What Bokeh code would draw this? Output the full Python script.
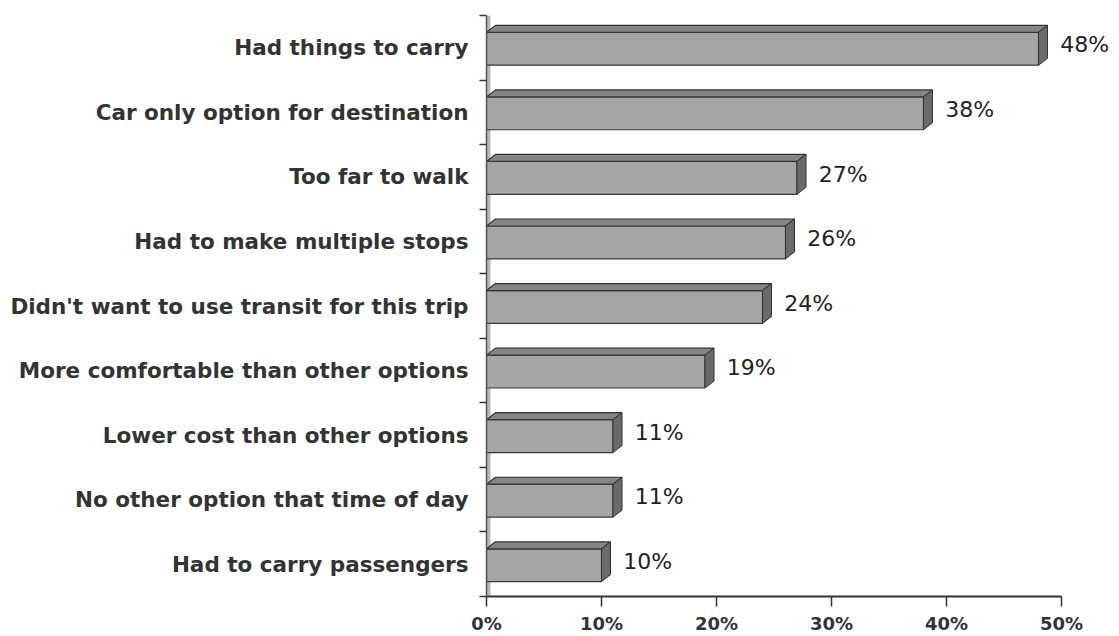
from bokeh.plotting import figure
from bokeh.models import Range1d, FixedTicker, PrintfTickFormatter, ColumnDataSource
from bokeh.core.properties import value
from bokeh.embed import file_html
from bokeh.resources import INLINE

categories = [
    "Had things to carry",
    "Car only option for destination",
    "Too far to walk",
    "Had to make multiple stops",
    "Didn't want to use transit for this trip",
    "More comfortable than other options",
    "Lower cost than other options",
    "No other option that time of day",
    "Had to carry passengers",
]
values = [48, 38, 27, 26, 24, 19, 11, 11, 10]
value_labels = ["48%", "38%", "27%", "26%", "24%", "19%", "11%", "11%", "10%"]
x_ticks = [0, 10, 20, 30, 40, 50]

n = len(categories)
ypos = [n - 1 - i for i in range(n)]

FONT = "DejaVu Sans"
W, H = 1119, 636
BL, BR, BT, BB = 486, 0, 15, 38
px_per_unit_x = 11.5
x_end = (W - BL - BR) / px_per_unit_x
px_per_unit_y = (H - BT - BB) / n

p = figure(width=W, height=H, x_range=Range1d(0, x_end), y_range=Range1d(-0.5, n - 0.5),
           output_backend="svg", toolbar_location=None,
           min_border_left=BL, min_border_right=BR, min_border_top=BT, min_border_bottom=BB)
p.outline_line_color = None
p.xgrid.grid_line_color = None
p.ygrid.grid_line_color = None
p.background_fill_color = "white"

# 3D depth (style)
dxu = 9 / px_per_unit_x
dyu = 7 / px_per_unit_y
hh = 33 / px_per_unit_y / 2
shift = 1 / px_per_unit_y

# wall strip
p.quad(left=[0], right=[4 / px_per_unit_x], bottom=[-0.5], top=[n - 0.5],
       fill_color="#b8b8b8", line_color=None)

centers = [y - shift for y in ypos]
src = ColumnDataSource(dict(
    y=centers, v=values, cat=categories,
    top_xs=[[0, v, v + dxu, dxu] for v in values],
    top_ys=[[c + hh, c + hh, c + hh + dyu, c + hh + dyu] for c in centers],
    side_xs=[[v, v + dxu, v + dxu, v] for v in values],
    side_ys=[[c - hh, c - hh + dyu, c + hh + dyu, c + hh] for c in centers],
    lx=[v + dxu + 1.1 for v in values],
    ly=[c + 0.06 for c in centers],
    lab=value_labels,
))

p.hbar(y="y", left=0, right="v", height=2 * hh, source=src,
       fill_color="#a7a7a7", line_color="#3a3a3a", line_width=1.2,
       hatch_pattern="dot", hatch_color="#8c8c8c", hatch_alpha=0.35, hatch_scale=4)
p.patches(xs="top_xs", ys="top_ys", source=src, fill_color="#858585",
          line_color="#333333", line_width=1.2)
p.patches(xs="side_xs", ys="side_ys", source=src, fill_color="#6a6a6a",
          line_color="#333333", line_width=1.0)

p.text(x="lx", y="ly", text="lab", source=src, text_font=value(FONT),
       text_font_size="22px", text_color="#222222", text_align="left",
       text_baseline="middle")

# left axis
ya = p.yaxis[0]
ya.ticker = FixedTicker(ticks=ypos, minor_ticks=[k - 0.5 for k in range(n + 1)])
ya.major_label_overrides = {y: c for y, c in zip(ypos, categories)}
ya.major_tick_out = 0
ya.major_tick_in = 0
ya.minor_tick_out = 7
ya.minor_tick_in = 0
ya.minor_tick_line_color = "#333333"
ya.minor_tick_line_width = 1.5
ya.axis_line_color = "#555555"
ya.axis_line_width = 1.5
ya.major_label_standoff = 11
ya.major_label_text_font = FONT
ya.major_label_text_font_style = "bold"
ya.major_label_text_font_size = "21.5px"
ya.major_label_text_color = "#333333"

# bottom axis
xa = p.xaxis[0]
xa.ticker = FixedTicker(ticks=x_ticks)
xa.formatter = PrintfTickFormatter(format="%d%%")
xa.bounds = (min(x_ticks), max(x_ticks))
xa.major_tick_out = 10
xa.major_tick_in = 0
xa.minor_tick_out = 0
xa.minor_tick_in = 0
xa.major_tick_line_color = "#333333"
xa.major_tick_line_width = 1.5
xa.axis_line_color = "#333333"
xa.axis_line_width = 1.8
xa.major_label_standoff = 6
xa.major_label_text_font = FONT
xa.major_label_text_font_style = "bold"
xa.major_label_text_font_size = "18px"
xa.major_label_text_color = "#333333"

open("out.html", "w").write(file_html(p, INLINE))
